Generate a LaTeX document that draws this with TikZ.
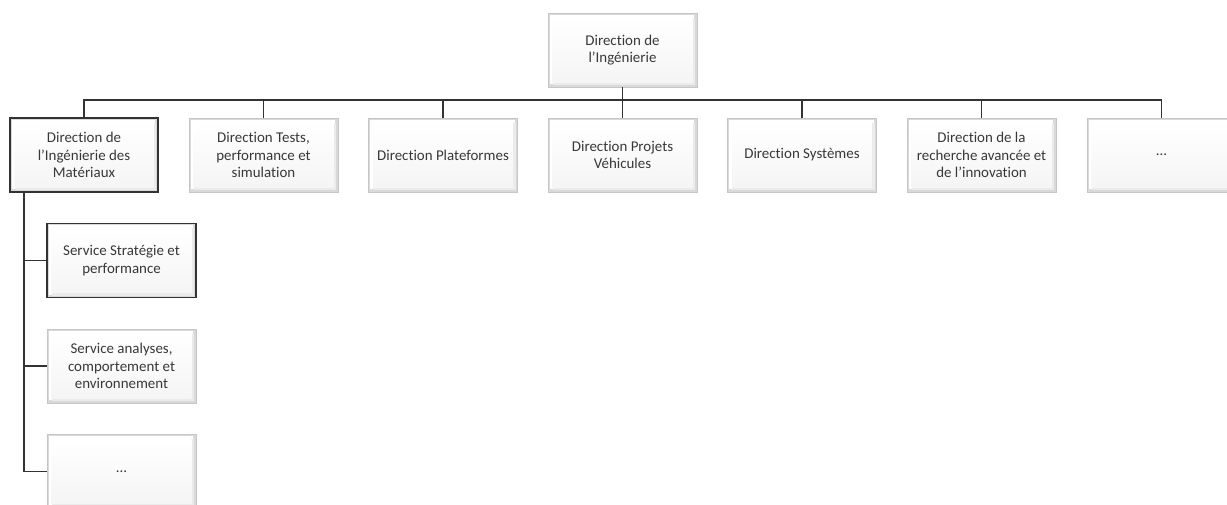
\documentclass[tikz,border=0pt]{standalone}
\usepackage{fontspec}
\setmainfont{Carlito}[Ligatures=NoCommon]
\usetikzlibrary{calc}
\tikzset{
  bevel/.style={path picture={
    \fill[gray!30] (path picture bounding box.south west) rectangle (path picture bounding box.north east);
    \fill[white] ([shift={(1.2pt,-1.2pt)}]path picture bounding box.north west) rectangle ([shift={(-2.2pt,2.2pt)}]path picture bounding box.south east);
    \fill[gray!16] ([shift={(3.5pt,3.5pt)}]path picture bounding box.south west) rectangle ([shift={(-1.2pt,1.2pt)}]path picture bounding box.south east);
    \fill[gray!16] ([shift={(-3.5pt,-3.5pt)}]path picture bounding box.north east) rectangle ([shift={(-1.2pt,1.2pt)}]path picture bounding box.south east);
    \shade[top color=white,bottom color=gray!8] ([shift={(3.5pt,-3.5pt)}]path picture bounding box.north west) rectangle ([shift={(-3.5pt,3.5pt)}]path picture bounding box.south east);
  }},
  orgbox/.style={rectangle, bevel, draw=gray!45, line width=0.5pt, minimum width=111.75pt, minimum height=55.5pt,
    inner sep=2pt, align=center, font=\fontsize{11.2}{13.2}\selectfont, text=black!78},
  hlbox/.style={orgbox, draw=black!80, line width=1pt},
  conn/.style={draw=black!80, line width=0.9pt}
}
\begin{document}
\begin{tikzpicture}[x=0.75pt,y=-0.75pt]
\useasboundingbox (0,0) rectangle (1227,504);
% top
\node[orgbox] (top) at (622.5,50) {Direction de\\l’Ingénierie};
% row 1
\node[hlbox, minimum width=111pt] (d1) at (84,155) {Direction de\\l’Ingénierie des\\Matériaux};
\node[orgbox] (d2) at (263.5,155) {Direction Tests,\\performance et\\simulation};
\node[orgbox] (d3) at (443,155) {Direction Plateformes};
\node[orgbox] (d4) at (622.5,155) {Direction Projets\\Véhicules};
\node[orgbox] (d5) at (802,155) {Direction Systèmes};
\node[orgbox] (d6) at (981.5,155) {Direction de la\\recherche avancée et\\de l’innovation};
\node[orgbox] (d7) at (1161.5,155) {...};
% sub
\node[hlbox] (s1) at (121.5,260.5) {Service Stratégie et\\performance};
\node[orgbox] (s2) at (121.5,366) {Service analyses,\\comportement et\\environnement};
\node[orgbox] (s3) at (121.5,471.5) {...};
% connectors
\coordinate (busY) at (0,100);
\coordinate (spine) at (24,0);
\draw[conn] (top.south) -- (top.south |- busY);
\draw[conn] (d1.north) -- (d1.north |- busY) -- (d7.north |- busY) -- (d7.north);
\foreach \n in {d2,d3,d4,d5,d6} {\draw[conn] (\n.north) -- (\n.north |- busY);}
\draw[conn] (d1.south -| spine) -- (s3.west -| spine) -- (s3.west);
\draw[conn] (s1.west -| spine) -- (s1.west);
\draw[conn] (s2.west -| spine) -- (s2.west);
\end{tikzpicture}
\end{document}
